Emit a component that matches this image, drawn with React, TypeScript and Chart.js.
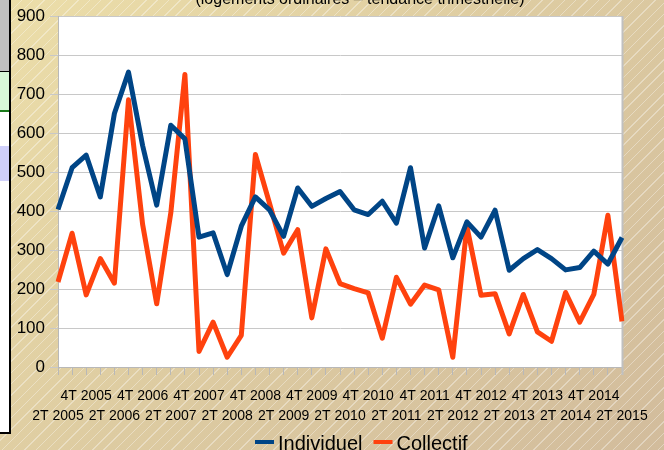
import React, { useEffect, useRef } from "react";
import { Chart, registerables } from "chart.js";

Chart.register(...registerables);

const quarters = [
  "2T 2005", "3T 2005", "4T 2005",
  "1T 2006", "2T 2006", "3T 2006", "4T 2006",
  "1T 2007", "2T 2007", "3T 2007", "4T 2007",
  "1T 2008", "2T 2008", "3T 2008", "4T 2008",
  "1T 2009", "2T 2009", "3T 2009", "4T 2009",
  "1T 2010", "2T 2010", "3T 2010", "4T 2010",
  "1T 2011", "2T 2011", "3T 2011", "4T 2011",
  "1T 2012", "2T 2012", "3T 2012", "4T 2012",
  "1T 2013", "2T 2013", "3T 2013", "4T 2013",
  "1T 2014", "2T 2014", "3T 2014", "4T 2014",
  "1T 2015", "2T 2015",
];

const individuel = [
  404, 511, 543, 436, 650, 756, 568, 415, 620, 585, 333,
  344, 237, 361, 436, 403, 335, 459, 412, 432, 450,
  403, 391, 425, 369, 511, 305, 413, 280, 372, 333,
  402, 248, 278, 301, 278, 249, 255, 297, 264, 332,
];

const collectif = [
  218, 343, 185, 278, 215, 685, 366, 162, 395, 750, 40,
  115, 25, 81, 545, 420, 292, 352, 126, 303, 214,
  201, 190, 74, 230, 161, 210, 198, 25, 360, 184,
  188, 85, 186, 90, 66, 191, 115, 186, 389, 117,
];

const seriesNames = ["Individuel", "Collectif"];
const seriesColors = ["#004586", "#ff420e"];
const titleText = "(logements ordinaires – tendance trimestrielle)";
const yTicks = { min: 0, max: 900, step: 100 };

const FONT = '"Liberation Sans", Arial, sans-serif';

const decorPlugin = {
  id: "decor",
  beforeDraw(chart: any) {
    const { ctx, chartArea: a } = chart;
    ctx.save();
    ctx.fillStyle = "#ffffff";
    ctx.fillRect(a.left, a.top, a.right - a.left, a.bottom - a.top);
    ctx.restore();
  },
  beforeDatasetsDraw(chart: any) {
    const { ctx, chartArea: a } = chart;
    ctx.save();
    ctx.strokeStyle = "#c0c0c0";
    ctx.lineWidth = 2;
    ctx.beginPath();
    ctx.moveTo(a.right + 0.5, a.top);
    ctx.lineTo(a.right + 0.5, a.bottom + 8);
    ctx.stroke();
    ctx.restore();
  },
  afterDraw(chart: any) {
    const { ctx } = chart;
    ctx.save();
    // title (partially cut at the top)
    ctx.fillStyle = "#000";
    ctx.font = `16px ${FONT}`;
    ctx.textAlign = "center";
    ctx.textBaseline = "alphabetic";
    ctx.fillText(titleText, 360, 4);
    // legend
    ctx.font = `20px ${FONT}`;
    ctx.textAlign = "left";
    let x = 255;
    seriesNames.forEach((name, i) => {
      ctx.fillStyle = seriesColors[i];
      ctx.fillRect(x, 440, 19, 4);
      x += 23;
      ctx.fillStyle = "#000";
      ctx.fillText(name, x, 450);
      x += ctx.measureText(name).width + 11;
    });
    ctx.restore();
  },
};

export default function App() {
  const ref = useRef<HTMLCanvasElement | null>(null);

  useEffect(() => {
    document.body.style.margin = "0";
    const canvas = ref.current;
    if (!canvas) return;
    const chart = new Chart(canvas, {
      type: "line",
      data: {
        labels: quarters,
        datasets: seriesNames.map((name, i) => ({
          label: name,
          data: i === 0 ? individuel : collectif,
          borderColor: seriesColors[i],
          backgroundColor: seriesColors[i],
          borderWidth: 5,
          borderJoinStyle: "round" as const,
          pointRadius: 0,
          tension: 0,
          fill: false,
        })),
      },
      options: {
        animation: false,
        responsive: false,
        devicePixelRatio: 1,
        layout: { padding: { left: 0, right: 42, top: 16, bottom: 0 } },
        plugins: {
          legend: { display: false },
          title: { display: false },
          tooltip: { enabled: false },
        },
        scales: {
          x: {
            offset: false,
            grid: {
              display: true,
              drawOnChartArea: false,
              drawTicks: true,
              tickLength: 8,
              color: "#b8b8b8",
            },
            border: { display: true, color: "#b8b8b8", width: 1 },
            ticks: {
              autoSkip: false,
              maxRotation: 0,
              minRotation: 0,
              padding: 11,
              color: "#000",
              font: { family: FONT, size: 14, lineHeight: "20px" },
              callback: (_v: any, idx: number) => {
                const lbl = quarters[idx];
                if (lbl.startsWith("2T")) return ["", lbl];
                if (lbl.startsWith("4T")) return [lbl, ""];
                return "";
              },
            },
            afterFit: (scale: any) => {
              scale.height = 450 - 367;
            },
          },
          y: {
            min: yTicks.min,
            max: yTicks.max,
            grid: {
              color: "#c8c8c8",
              tickLength: 8,
              drawTicks: true,
              lineWidth: 1,
            },
            border: { display: true, color: "#b8b8b8", width: 1 },
            ticks: {
              stepSize: yTicks.step,
              padding: 5,
              color: "#000",
              font: { family: FONT, size: 17 },
            },
            afterFit: (scale: any) => {
              scale.width = 58;
            },
          },
        },
      },
      plugins: [decorPlugin],
    });
    return () => chart.destroy();
  }, []);

  const bg =
    "repeating-linear-gradient(135deg, rgba(255,255,255,0) 0px, rgba(255,255,255,0) 7px, rgba(255,255,255,0.35) 7px, rgba(255,255,255,0.35) 8px), linear-gradient(135deg, #ecdea9 0%, #ddcba1 50%, #d2bc9c 100%)";

  return (
    <div
      style={{
        position: "absolute",
        left: 0,
        top: 0,
        width: 664,
        height: 450,
        overflow: "hidden",
        background: bg,
      }}
    >
      <canvas ref={ref} width={664} height={450} style={{ position: "absolute", left: 0, top: 0 }} />
      <div style={{ position: "absolute", left: 0, top: 0, width: 9, height: 432, background: "#fff", borderRight: "2px solid #000", borderBottom: "2px solid #000" }}>
        <div style={{ position: "absolute", left: 0, top: 0, width: 9, height: 71, background: "#c0c0c0", borderBottom: "1px solid #000" }} />
        <div style={{ position: "absolute", left: 0, top: 72, width: 9, height: 38, background: "#d8f8d8", borderBottom: "2px solid #1a7a1a" }} />
        <div style={{ position: "absolute", left: 0, top: 146, width: 9, height: 35, background: "#d0d0fa" }} />
      </div>
    </div>
  );
}
